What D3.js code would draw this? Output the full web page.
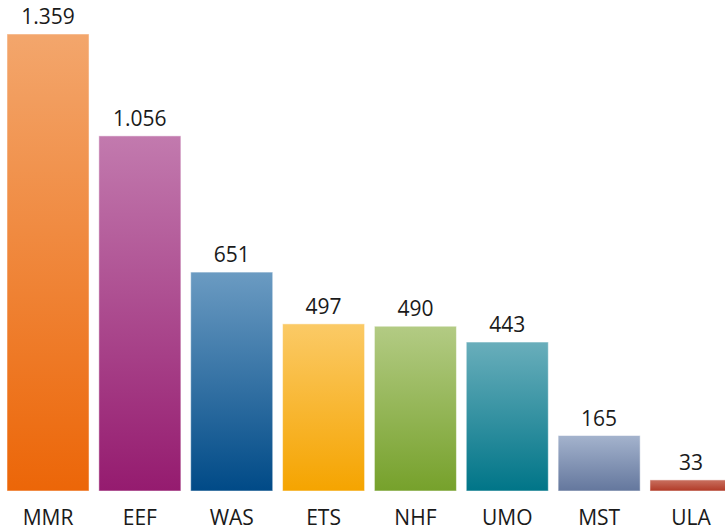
<!DOCTYPE html>
<html>
<head>
<meta charset="utf-8">
<script src="https://cdn.jsdelivr.net/npm/d3@7"></script>
<style>
  body { margin: 0; background: #fff; }
  svg { display: block; }
  text { font-family: "Open Sans", "DejaVu Sans", sans-serif; fill: #1a1a1a; }
</style>
</head>
<body>
<svg id="chart"></svg>
<script>
var categories = ["MMR", "EEF", "WAS", "ETS", "NHF", "UMO", "MST", "ULA"];
var values = [1359, 1056, 651, 497, 490, 443, 165, 33];
var valueLabels = ["1.359", "1.056", "651", "497", "490", "443", "165", "33"];
var topColors = ["#f3a66c", "#c27aae", "#6b9bc2", "#fbca66", "#b3cb84", "#69aebb", "#a4b3cd", "#c9705f"];
var bottomColors = ["#ec6608", "#951b6f", "#004a87", "#f5a400", "#76a12b", "#007588", "#64779d", "#b13a27"];

var width = 725, height = 530;

var svg = d3.select("#chart")
  .attr("width", width)
  .attr("height", height);

var x = d3.scaleBand()
  .domain(categories)
  .range([7, 732])
  .paddingInner(0.107)
  .paddingOuter(0);

var y = d3.scaleLinear()
  .domain([0, 1359])
  .range([491, 34]);

var defs = svg.append("defs");
categories.forEach(function (c, i) {
  var g = defs.append("linearGradient")
    .attr("id", "grad" + i)
    .attr("x1", 0).attr("y1", 0)
    .attr("x2", 0).attr("y2", 1);
  g.append("stop").attr("offset", "0%").attr("stop-color", topColors[i]);
  g.append("stop").attr("offset", "100%").attr("stop-color", bottomColors[i]);
});

var data = categories.map(function (c, i) {
  return { cat: c, value: values[i], label: valueLabels[i], i: i };
});

svg.append("g")
  .selectAll("rect")
  .data(data)
  .enter()
  .append("rect")
  .attr("x", function (d) { return x(d.cat); })
  .attr("y", function (d) { return y(d.value); })
  .attr("width", x.bandwidth())
  .attr("height", function (d) { return y(0) - y(d.value); })
  .style("fill", function (d) { return "url(#grad" + d.i + ")"; })
  .style("stroke", "#ffffff")
  .style("stroke-opacity", 0.5)
  .style("stroke-width", "1px");

// value labels
svg.append("g")
  .selectAll("text")
  .data(data)
  .enter()
  .append("text")
  .attr("x", function (d) { return x(d.cat) + x.bandwidth() / 2; })
  .attr("y", function (d) { return y(d.value) - 10; })
  .attr("text-anchor", "middle")
  .style("font-size", "21px")
  .text(function (d) { return d.label; });

// category labels
svg.append("g")
  .selectAll("text")
  .data(data)
  .enter()
  .append("text")
  .attr("x", function (d) { return x(d.cat) + x.bandwidth() / 2; })
  .attr("y", 525)
  .attr("text-anchor", "middle")
  .style("font-size", "21px")
  .text(function (d) { return d.cat; });
</script>
</body>
</html>
